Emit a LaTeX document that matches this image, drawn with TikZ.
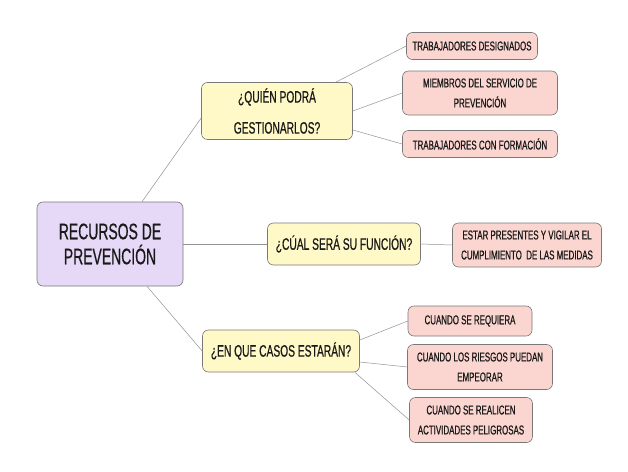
\documentclass[tikz,border=0pt]{standalone}
\usepackage{fontspec}
\setmainfont[FakeStretch=0.62, FakeBold=0.6]{Liberation Sans}

\definecolor{lila}{RGB}{230,216,247}
\definecolor{amarillo}{RGB}{255,249,200}
\definecolor{rosa}{RGB}{251,214,208}
\definecolor{borde}{RGB}{120,120,120}

\begin{document}
\begin{tikzpicture}[x=1pt, y=-1pt,
  caja/.style={draw=borde, line width=0.6pt, rounded corners=6pt, align=center,
    inner sep=2pt, text=black!90},
  raiz/.style={caja, fill=lila, minimum width=146pt, minimum height=84pt,
    font=\fontsize{22.5}{25}\selectfont},
  pregunta/.style={caja, fill=amarillo, minimum height=42pt,
    font=\fontsize{16.5}{31}\selectfont},
  hoja/.style={caja, fill=rosa, minimum height=27pt,
    font=\fontsize{12.8}{20}\selectfont},
  enlace/.style={draw=borde!80, line width=0.5pt}]

  \useasboundingbox[fill=white] (0,0) rectangle (628,471);

  % nodo central
  \node[raiz] (recursos) at (110,244) {RECURSOS DE\\PREVENCIÓN};

  % preguntas
  \node[pregunta, minimum width=151pt, minimum height=57pt] (quien) at (277,111)
    {¿QUIÉN PODRÁ\\GESTIONARLOS?};
  \node[pregunta, minimum width=153pt] (funcion) at (344,244)
    {¿CÚAL SERÁ SU FUNCIÓN?};
  \node[pregunta, minimum width=157pt] (casos) at (281,351)
    {¿EN QUE CASOS ESTARÁN?};

  % respuestas
  \node[hoja, minimum width=131pt] (designados) at (472,46)
    {TRABAJADORES DESIGNADOS};
  \node[hoja, minimum width=155pt, minimum height=44pt] (servicio) at (480,93)
    {MIEMBROS DEL SERVICIO DE\\PREVENCIÓN};
  \node[hoja, minimum width=155pt] (formacion) at (480,144)
    {TRABAJADORES CON FORMACIÓN};
  \node[hoja, minimum width=149pt, minimum height=44pt] (vigilar) at (527,245)
    {ESTAR PRESENTES Y VIGILAR EL\\CUMPLIMIENTO \ DE LAS MEDIDAS};
  \node[hoja, minimum width=124pt, minimum height=30pt] (requiera) at (470,321)
    {CUANDO SE REQUIERA};
  \node[hoja, minimum width=145pt, minimum height=45pt] (riesgos) at (480,367)
    {CUANDO LOS RIESGOS PUEDAN\\EMPEORAR};
  \node[hoja, minimum width=123pt, minimum height=45pt] (peligrosas) at (471,420)
    {CUANDO SE REALICEN\\ACTIVIDADES PELIGROSAS};

  % conexiones
  \draw[enlace] ([xshift=32pt]recursos.north) -- ([yshift=-7pt]quien.west);
  \draw[enlace] (recursos.east) -- (funcion.west);
  \draw[enlace] ([xshift=37pt]recursos.south) -- (casos.west);
  \draw[enlace] ([xshift=-17pt]quien.north east) -- (designados.west);
  \draw[enlace] (quien.east) -- (servicio.west);
  \draw[enlace] ([yshift=-19pt]quien.east) -- (formacion.west);
  \draw[enlace] (funcion.east) -- (vigilar.west);
  \draw[enlace] ([yshift=11pt]casos.east) -- (requiera.west);
  \draw[enlace] ([yshift=-11pt]casos.east) -- (riesgos.west);
  \draw[enlace] ([xshift=-5pt]casos.south east) -- (peligrosas.west);
\end{tikzpicture}
\end{document}
